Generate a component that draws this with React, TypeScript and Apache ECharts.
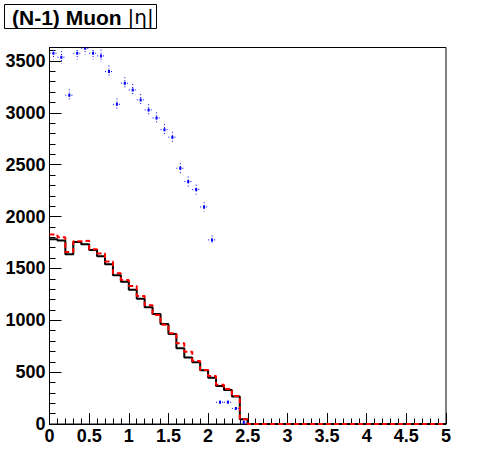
import React, { useEffect, useRef } from "react";
import * as echarts from "echarts";

// Histogram binning (|eta| from 0 to 5, 50 bins)
const BIN_WIDTH = 0.1;
const X_MIN = 0;
const X_MAX = 5;
const Y_MAX = 3630;

const blackValues = [
  1781, 1768, 1636, 1755, 1733, 1678, 1617, 1540, 1434, 1372,
  1295, 1208, 1125, 1061, 964, 868, 730, 640, 595, 518,
  447, 366, 328, 264, 45, 0, 0, 0, 0, 0,
  0, 0, 0, 0, 0, 0, 0, 0, 0, 0,
  0, 0, 0, 0, 0, 0, 0, 0, 0, 0,
];

const redValues = [
  1826, 1800, 1659, 1762, 1768, 1685, 1643, 1566, 1453, 1389,
  1331, 1234, 1145, 1051, 958, 874, 778, 697, 608, 521,
  463, 379, 338, 270, 45, 0, 0, 0, 0, 0,
  0, 0, 0, 0, 0, 0, 0, 0, 0, 0,
  0, 0, 0, 0, 0, 0, 0, 0, 0, 0,
];

const blueValues = [
  3575, 3536, 3170, 3575, 3623, 3575, 3549, 3398, 3082, 3286,
  3221, 3125, 3028, 2951, 2838, 2765, 2466, 2337, 2260, 2093,
  1775, 210, 210, 150, 16, 0, 0, 0, 0, 0,
  0, 0, 0, 0, 0, 0, 0, 0, 0, 0,
  0, 0, 0, 0, 0, 0, 0, 0, 0, 0,
];

const titleMain = "(N-1) Muon ";
const titleSym = "|η|";

const FONT = "'Liberation Sans', Arial, Helvetica, sans-serif";

function stepData(vals: number[]) {
  const pts: number[][] = vals.map((v, i) => [X_MIN + i * BIN_WIDTH, v]);
  pts.push([X_MAX, vals[vals.length - 1]]);
  return pts;
}

export default function App() {
  const ref = useRef<HTMLDivElement>(null);
  useEffect(() => {
    if (!ref.current) return;
    const chart = echarts.init(ref.current, null, { renderer: "svg" });
    const blueData = blueValues.map((v, i) => [X_MIN + (i + 0.5) * BIN_WIDTH, v]);
    chart.setOption({
      animation: false,
      backgroundColor: "#ffffff",
      grid: {
        left: 49.5,
        right: 50,
        top: 47.5,
        bottom: 48,
        show: true,
        borderColor: "#000",
        borderWidth: 1,
        backgroundColor: "transparent",
      },
      xAxis: {
        type: "value",
        min: X_MIN,
        max: X_MAX,
        interval: 0.5,
        axisLine: { show: true, lineStyle: { color: "#000", width: 1 } },
        axisTick: { show: true, inside: true, length: 11, lineStyle: { color: "#000" } },
        minorTick: { show: true, splitNumber: 5, length: 5.5, lineStyle: { color: "#000" } },
        splitLine: { show: false },
        axisLabel: {
          color: "#000",
          fontFamily: FONT,
          fontWeight: "bold",
          fontSize: 18,
          margin: 3,
          formatter: (v: number) => String(v),
        },
      },
      yAxis: {
        type: "value",
        min: 0,
        max: Y_MAX,
        interval: 500,
        axisLine: { show: true, lineStyle: { color: "#000", width: 1 } },
        axisTick: { show: true, inside: true, length: 12, lineStyle: { color: "#000" } },
        minorTick: { show: true, splitNumber: 5, length: 6, lineStyle: { color: "#000" } },
        splitLine: { show: false },
        axisLabel: {
          color: "#000",
          fontFamily: FONT,
          fontWeight: "bold",
          fontSize: 18,
          margin: 4,
          showMaxLabel: false,
          formatter: (v: number) => String(v),
        },
      },
      graphic: [
        {
          type: "rect",
          shape: { x: 4.5, y: 4.5, width: 152, height: 24 },
          style: { fill: "#fff", stroke: "#000", lineWidth: 1 },
          z: 10,
        },
        {
          type: "text",
          x: 12,
          y: 17,
          z: 11,
          style: {
            text: "{a|" + titleMain + "}{b|" + titleSym + "}",
            verticalAlign: "middle",
            rich: {
              a: { fontFamily: FONT, fontWeight: "bold", fontSize: 21, fill: "#000" },
              b: { fontFamily: "'DejaVu Sans', sans-serif", fontWeight: "normal", fontSize: 20, fill: "#000" },
            },
          },
        },
      ],
      series: [
        {
          type: "line",
          data: stepData(blackValues),
          step: "end",
          showSymbol: false,
          clip: true,
          lineStyle: { color: "#000", width: 2 },
          z: 2,
        },
        {
          type: "line",
          data: stepData(redValues),
          step: "end",
          showSymbol: false,
          clip: true,
          lineStyle: { color: "#ff0000", width: 2, type: [5, 3] },
          z: 3,
        },
        {
          type: "custom",
          data: blueData,
          clip: true,
          z: 4,
          renderItem: (params: any, api: any) => {
            const x = api.value(0);
            const v = api.value(1);
            if (!v) return null;
            const err = Math.sqrt(v);
            const c = api.coord([x, v]);
            const l = api.coord([x - BIN_WIDTH / 2, v]);
            const r = api.coord([x + BIN_WIDTH / 2, v]);
            const t = api.coord([x, v + err]);
            const b = api.coord([x, v - err]);
            const dash = { stroke: "#0000ff", lineWidth: 1, lineDash: [1, 2] };
            return {
              type: "group",
              children: [
                { type: "line", shape: { x1: l[0], y1: c[1], x2: r[0], y2: c[1] }, style: dash },
                { type: "line", shape: { x1: c[0], y1: t[1], x2: c[0], y2: b[1] }, style: dash },
                { type: "rect", shape: { x: c[0] - 1, y: c[1] - 1.5, width: 2, height: 3 }, style: { fill: "#0000ff" } },
              ],
            };
          },
        },
      ],
    });
    return () => chart.dispose();
  }, []);
  return (
    <div
      ref={ref}
      style={{ position: "fixed", left: 0, top: 0, width: 496, height: 472, background: "#fff" }}
    />
  );
}
